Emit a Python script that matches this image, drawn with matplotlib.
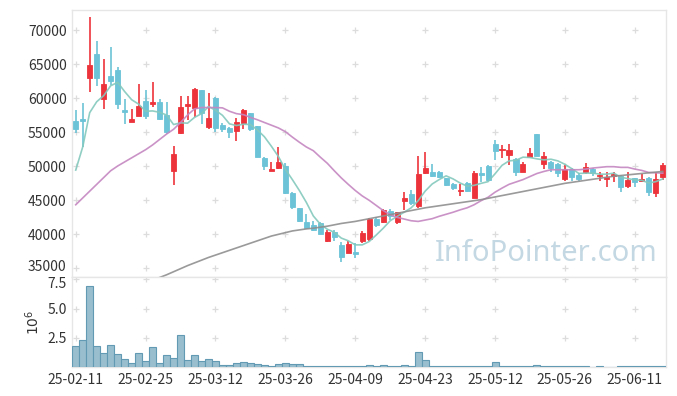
import numpy as np
import matplotlib
matplotlib.use('Agg')
import matplotlib.pyplot as plt
import matplotlib.transforms as mtransforms

plt.rcParams['font.family'] = ['Noto Sans CJK KR', 'DejaVu Sans']

# daily prices (trading-day index on x)
open_ = [56600, 56900, 63000, 66450, 59800, 63250, 64100, 58250, 56500, 57350,
         59600, 59100, 59400, 57500, 49300, 54800, 58800, 58600, 61200, 55800,
         60050, 56050, 55650, 55200, 56350, 57750, 55900, 51150, 49300, 49650,
         50050, 46100, 43850, 41750, 41300, 41550, 39000, 40250, 38400, 37250,
         37300, 39000, 39200, 42150, 41700, 43450, 41800, 44900, 45850, 44100,
         48900, 49050, 49150, 48200, 47350, 46350, 47550, 45350, 48900, 50000,
         53200, 52300, 51600, 51000, 49150, 51350, 54700, 50250, 50650, 50300,
         48050, 49500, 48700, 49050, 49550, 48500, 48150, 48500, 48600, 47050,
         48200, 47850, 48200, 46100, 48350]
close = [55400, 56550, 64850, 63000, 62050, 62550, 59150, 58000, 56900, 58800,
         57350, 59400, 56900, 55050, 51750, 58650, 59050, 61300, 57750, 57100,
         55650, 55500, 55050, 56400, 58250, 55400, 51350, 50050, 49500, 50650,
         46000, 43900, 41950, 40850, 40600, 40000, 40250, 39600, 36550, 38550,
         37100, 40100, 42150, 41300, 43550, 42700, 43200, 45250, 44500, 48800,
         49650, 48600, 48450, 47200, 46700, 46450, 46350, 49000, 48700, 47950,
         52250, 52500, 52350, 49150, 50300, 51950, 51500, 51500, 49650, 49000,
         49500, 48350, 48100, 49900, 48900, 48700, 48400, 48800, 46950, 47950,
         47700, 48100, 46200, 48050, 50150]
high = [58250, 59200, 71950, 68400, 65700, 67450, 64500, 59800, 58350, 62050,
        61200, 62400, 59800, 59450, 52950, 60300, 60300, 61400, 61200, 60700,
        60100, 56300, 55800, 57000, 58450, 57850, 55900, 51350, 50650, 52850,
        50500, 46200, 43850, 42950, 41950, 41750, 40600, 40600, 38850, 38950,
        38650, 40450, 42300, 42550, 43700, 43700, 43300, 46150, 46450, 51500,
        52100, 50250, 49300, 48300, 47450, 47350, 47700, 49300, 49900, 50150,
        53800, 53100, 53200, 51150, 50650, 52700, 54700, 52100, 50750, 50400,
        50150, 49650, 49000, 50500, 49650, 49050, 49150, 49150, 48700, 49050,
        48300, 48800, 48450, 49050, 50400]
low = [54800, 52850, 60950, 61750, 58350, 61900, 58400, 56150, 56400, 57350,
       56850, 58700, 56750, 54700, 47200, 54700, 56750, 57150, 56150, 55450,
       55050, 54950, 54050, 53700, 55450, 55200, 51350, 49400, 49200, 49550,
       45900, 43650, 41800, 40750, 40500, 39950, 38850, 39000, 35950, 37150,
       36400, 38650, 39000, 41100, 41550, 42050, 41450, 43550, 44250, 43850,
       48800, 48450, 48200, 47100, 46450, 45650, 46200, 45250, 47700, 47850,
       50950, 51150, 50150, 48550, 49050, 51250, 51500, 49550, 49150, 48450,
       47850, 47800, 47850, 48800, 48600, 47800, 46850, 47700, 46200, 46800,
       46850, 47800, 45600, 45500, 47950]

# moving averages
ma5 = [49400, 52800, 57850, 59450, 60350, 61800, 62300, 60950, 59750, 59100,
       58050, 58100, 57900, 57500, 56100, 56350, 56300, 57150, 57700, 58750,
       58200, 57450, 56200, 55950, 56150, 56100, 55300, 54300, 52900, 51400,
       49500, 48000, 46400, 44650, 42650, 41450, 40700, 40250, 39400, 39000,
       38400, 38400, 38900, 39850, 40850, 41950, 42600, 43200, 43850, 44900,
       46300, 47350, 48000, 48550, 48100, 47500, 47050, 47150, 47450, 47700,
       48850, 50100, 50750, 50850, 51300, 51250, 51050, 50900, 51000, 50750,
       50250, 49600, 48900, 48950, 48950, 48800, 48800, 48950, 48350, 48150,
       47950, 47900, 47500, 47700, 48100]
ma20 = [44300, 45300, 46300, 47300, 48300, 49300, 50000, 50600, 51200, 51800,
        52400, 53100, 53900, 54700, 55400, 56400, 57500, 58400, 58600, 58600,
        58600, 58550, 58050, 57700, 57550, 57150, 56800, 56400, 56000, 55600,
        55050, 54250, 53500, 52800, 52250, 51300, 50400, 49300, 48250, 47300,
        46400, 45600, 44950, 44200, 43450, 42850, 42450, 42200, 41950, 41850,
        42050, 42250, 42600, 42900, 43200, 43550, 43850, 44300, 44900, 45400,
        46150, 46750, 47300, 47650, 48000, 48450, 48900, 49200, 49450, 49450,
        49450, 49450, 49450, 49550, 49700, 49800, 49900, 49900, 49800, 49800,
        49550, 49350, 49050, 49000, 48950]
ma60 = [np.nan] * 11 + [
        33200, 33600, 34000, 34450, 34900, 35350, 35750, 36150, 36550,
        36900, 37250, 37600, 37950, 38300, 38650, 39000, 39350, 39700, 39950,
        40200, 40450, 40600, 40750, 40850, 41000, 41150, 41350, 41550, 41700,
        41850, 42050, 42250, 42450, 42650, 42850, 43050, 43250, 43450, 43650,
        43850, 44000, 44150, 44300, 44450, 44600, 44750, 44900, 45050, 45250,
        45450, 45650, 45850, 46050, 46250, 46450, 46650, 46850, 47050, 47250,
        47450, 47600, 47750, 47900, 48050, 48200, 48350, 48500, 48600, 48700,
        48800, 48900, 49000, 49100, 49200]

# volume in millions
volume = [1.79, 2.30, 6.93, 1.79, 1.22, 1.88, 1.11, 0.68, 0.34, 1.19,
          0.54, 1.70, 0.37, 1.02, 0.80, 2.73, 0.60, 0.99, 0.51, 0.68,
          0.54, 0.17, 0.17, 0.34, 0.43, 0.34, 0.26, 0.17, 0.09, 0.26,
          0.34, 0.26, 0.26, 0.09, 0.09, 0.09, 0.09, 0.09, 0.06, 0.06,
          0.06, 0.06, 0.20, 0.06, 0.17, 0.06, 0.06, 0.17, 0.06, 1.25,
          0.57, 0.05, 0.05, 0.05, 0.05, 0.05, 0.05, 0.11, 0.05, 0.05,
          0.40, 0.11, 0.11, 0.05, 0.05, 0.11, 0.20, 0.05, 0.05, 0.05,
          0.05, 0.05, 0.05, 0.05, 0.0, 0.05, 0.0, 0.0, 0.05, 0.05,
          0.11, 0.05, 0.05, 0.05, 0.11]

tick_labels = ['25-02-11', '25-02-25', '25-03-12', '25-03-26', '25-04-09',
               '25-04-23', '25-05-12', '25-05-26', '25-06-11']
price_ticks = [35000, 40000, 45000, 50000, 55000, 60000, 65000, 70000]
vol_ticks = [2.5, 5.0, 7.5]

up_color = '#ec333b'
down_color = '#6cc3d7'

x = np.arange(len(close))
o = np.array(open_)
c = np.array(close)
colors = [up_color if cc >= oo else down_color for oo, cc in zip(o, c)]
tick_pos = np.arange(0, len(close), 10)[:len(tick_labels)]

fig = plt.figure(figsize=(6.77, 3.96), dpi=100)
ax = fig.add_axes([0.1067, 0.3005, 0.8774, 0.6742])
axv = fig.add_axes([0.1067, 0.0732, 0.8774, 0.2273], sharex=ax)

# candles
ax.vlines(x, low, high, colors=colors, linewidth=1.2, zorder=2)
ax.bar(x, np.abs(c - o), bottom=np.minimum(o, c), width=0.72,
       color=colors, edgecolor=colors, linewidth=0.6, zorder=3)

# moving averages
ax.plot(x, ma5, color='#84c9bd', linewidth=1.2, alpha=0.9, zorder=4)
ax.plot(x, ma20, color='#c587c1', linewidth=1.2, alpha=0.9, zorder=4)
ax.plot(x, ma60, color='#8f8f8f', linewidth=1.2, alpha=0.9, zorder=4)

# volume
axv.bar(x, volume, width=1.0, color='#99bfce', edgecolor='#6299b3',
        linewidth=0.8, zorder=3)

# grid crosses at tick intersections
gx, gy = np.meshgrid(tick_pos, price_ticks)
ax.scatter(gx.ravel(), gy.ravel(), marker='+', s=16, color='#dcdcdc',
           linewidths=0.9, zorder=1)
gx, gy = np.meshgrid(tick_pos, vol_ticks)
axv.scatter(gx.ravel(), gy.ravel(), marker='+', s=16, color='#dcdcdc',
            linewidths=0.9, zorder=1)

ax.set_xlim(-0.5, len(close) - 0.5)
ax.set_ylim(33676, 72941)
axv.set_ylim(0, 7.7)

ax.set_yticks(price_ticks)
ax.set_yticklabels([str(p) for p in price_ticks])
axv.set_yticks(vol_ticks)
axv.set_xticks(tick_pos)
axv.set_xticklabels(tick_labels)
plt.setp(ax.get_xticklabels(), visible=False)
axv.set_ylabel('$10^6$', fontsize=10, color='#333333', labelpad=4)

for a in (ax, axv):
    a.tick_params(length=0, labelsize=10, labelcolor='#333333', pad=4)
    for s in a.spines.values():
        s.set_color('#e6e6e6')
        s.set_linewidth(1.0)

# shift the two edge labels a couple of pixels apart so they don't touch
lbl = ax.get_yticklabels()[0]
lbl.set_transform(lbl.get_transform() +
                  mtransforms.ScaledTranslation(0, 2 / 72, fig.dpi_scale_trans))
lbl = axv.get_yticklabels()[-1]
lbl.set_transform(lbl.get_transform() +
                  mtransforms.ScaledTranslation(0, -2 / 72, fig.dpi_scale_trans))

# watermark
ax.text(0.985, 0.035, 'InfoPointer.com', transform=ax.transAxes,
        ha='right', va='bottom', fontsize=21, color='#c3d8e3',
        family=['Noto Sans', 'DejaVu Sans'], zorder=0)

fig.savefig('out.png', dpi=100)
